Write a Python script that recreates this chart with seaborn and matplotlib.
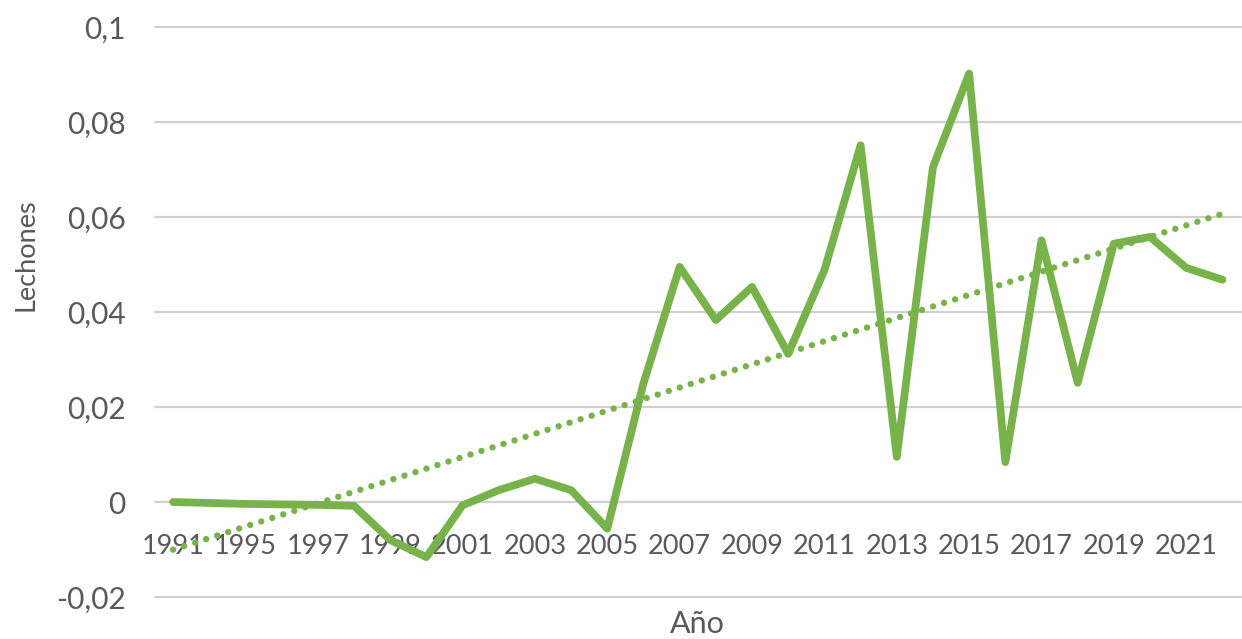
import numpy as np
import pandas as pd
import seaborn as sns
import matplotlib
matplotlib.use("Agg")
import matplotlib.pyplot as plt

# ---------------- data ----------------
years = ["1991", "1993", "1995", "1996", "1997", "1998", "1999", "2000", "2001", "2002",
         "2003", "2004", "2005", "2006", "2007", "2008", "2009", "2010", "2011", "2012",
         "2013", "2014", "2015", "2016", "2017", "2018", "2019", "2020", "2021", "2022"]
lechones = [0.0, -0.0002, -0.0004, -0.0005, -0.0006, -0.0008, -0.0080, -0.0116, -0.0007, 0.0025,
            0.0049, 0.0025, -0.0056, 0.0250, 0.0495, 0.0383, 0.0453, 0.0312, 0.0488, 0.0751,
            0.0095, 0.0705, 0.0902, 0.0084, 0.0551, 0.0251, 0.0544, 0.0558, 0.0493, 0.0468]
ytick_vals = [-0.02, 0.0, 0.02, 0.04, 0.06, 0.08, 0.1]
ytick_labels = ["-0,02", "0", "0,02", "0,04", "0,06", "0,08", "0,1"]

green = "#77B34A"
grey_txt = "#595959"

df = pd.DataFrame({"idx": np.arange(len(years)), "Año": years, "Lechones": lechones})

# linear trend (like Excel's trendline)
slope, icpt = np.polyfit(df["idx"], df["Lechones"], 1)
df["trend"] = icpt + slope * df["idx"]

sns.set_theme(style="white")
plt.rcParams["font.family"] = ["Lato", "DejaVu Sans"]

fig = plt.figure(figsize=(12.42, 6.39), dpi=100)
ax = fig.add_axes([0.1248, 0.0657, 0.874, 0.892])

# dotted trend line first, the data line sits over it
sns.lineplot(data=df, x="idx", y="trend", color=green, linewidth=4.6, ax=ax)
trend_line = ax.lines[-1]
trend_line.set_linestyle((0, (0.01, 1.8)))
trend_line.set_dash_capstyle("round")

sns.lineplot(data=df, x="idx", y="Lechones", color=green, linewidth=5.6, ax=ax)
data_line = ax.lines[-1]
data_line.set_solid_joinstyle("round")
data_line.set_solid_capstyle("round")

ax.set_xlim(-0.5, len(years) - 0.5)
ax.set_ylim(-0.02, 0.1)
ax.set_yticks(ytick_vals)
ax.set_yticklabels(ytick_labels)
ax.set_xticks(df["idx"][::2])
ax.set_xticklabels(years[::2])

ax.yaxis.grid(True, color="#D0D0D0", linewidth=1.6)
ax.xaxis.grid(False)
for g in ax.get_ygridlines():
    g.set_clip_on(False)
ax.set_axisbelow(True)

# category axis crosses at zero, like the original
ax.spines["bottom"].set_position(("data", 0))
for s in ax.spines.values():
    s.set_visible(False)

ax.tick_params(axis="x", length=0, pad=23, labelsize=19.5, labelcolor=grey_txt)
ax.tick_params(axis="y", length=0, pad=21, labelsize=21.5, labelcolor=grey_txt)

ax.set_xlabel("Año", fontsize=22, color=grey_txt)
ax.xaxis.set_label_coords(0.5, -0.022)
ax.set_ylabel("Lechones", fontsize=19.5, color=grey_txt)
ax.yaxis.set_label_coords(-0.1076, 0.6)

fig.savefig("out.png", dpi=100, facecolor="white")
